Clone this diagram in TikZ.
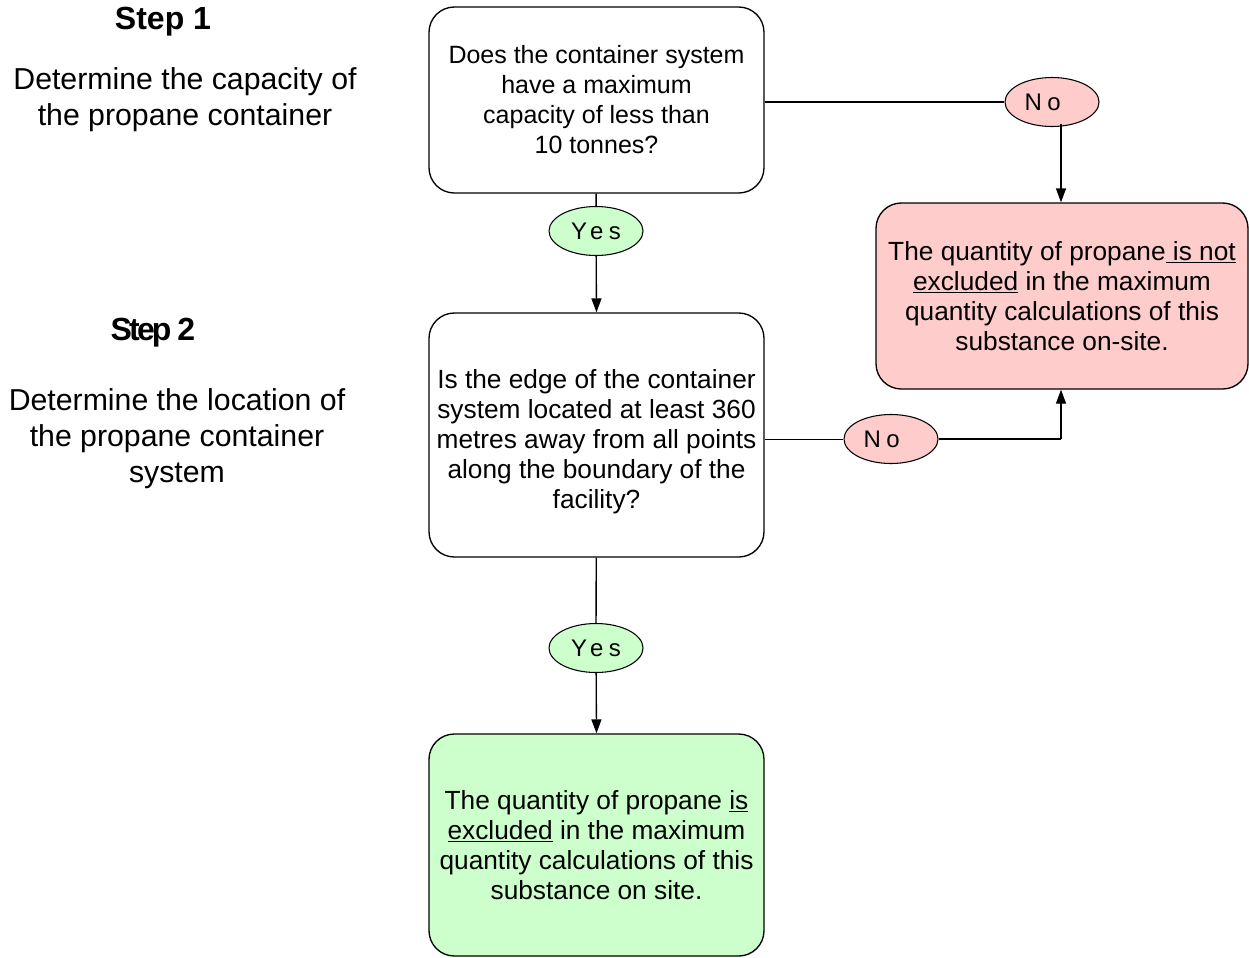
\documentclass[tikz,border=0pt]{standalone}
\usepackage{fontspec}
\setmainfont{Liberation Sans}
\usetikzlibrary{arrows.meta,shapes.geometric}
\definecolor{nofill}{HTML}{FFCCCC}
\definecolor{yesfill}{HTML}{CCFFCC}
\begin{document}
\begin{tikzpicture}[x=0.75pt,y=-0.75pt,
  boxfont/.style={font=\fontsize{19.7pt}{22.5pt}\selectfont},
  qbox/.style={draw,line width=1pt,rounded corners=19pt,minimum width=251.25pt,
    inner sep=0pt,align=center,boxfont},
  yeslabel/.style={ellipse,draw,line width=0.8pt,fill=yesfill,minimum width=70.5pt,
    minimum height=36.75pt,inner sep=0pt,
    font=\fontsize{18pt}{20pt}\selectfont\addfontfeature{LetterSpace=22}},
  nolabel/.style={yeslabel,fill=nofill},
  steptitle/.style={font=\fontsize{24pt}{28pt}\selectfont\bfseries},
  stepnote/.style={align=center,font=\fontsize{22.7pt}{27pt}\selectfont},
  link/.style={line width=1pt},
  arrowlink/.style={link,-{Triangle[length=10.5pt,width=7.5pt]}}]
\useasboundingbox (0,0) rectangle (1249,957);

% step captions on the left
\node[steptitle] (s1) at (163,22) {Step 1};
\node[stepnote] (s1n) at (185,100) {Determine the capacity of\\the propane container};
\node[steptitle,font=\fontsize{24pt}{28pt}\selectfont\bfseries\addfontfeature{LetterSpace=-9}] (s2) at (153,333) {Step 2};
\node[stepnote] (s2n) at (177,439) {Determine the location of\\the propane container\\system};

% decision and outcome boxes
\node[qbox,minimum height=139.5pt,font=\fontsize{18.75pt}{22.5pt}\selectfont] (q1) at (596.5,100)
  {Does the container system\\have a maximum\\capacity of less than\\10 tonnes?};
\node[qbox,minimum height=183pt] (q2) at (596.5,435) {};
\node[align=center,inner sep=0pt,boxfont] (q2text) at ([yshift=-5pt]q2.center)
  {Is the edge of the container\\system located at least 360\\metres away from all points\\along the boundary of the\\facility?};
\node[qbox,fill=nofill,minimum width=279pt,minimum height=139.5pt] (notex) at (1062,296)
  {The quantity of propane\underline{ is not}\\\underline{excluded} in the maximum\\quantity calculations of this\\substance on-site.};
\node[qbox,fill=yesfill,minimum height=166.5pt] (ex) at (596.5,845)
  {The quantity of propane \underline{is}\\\underline{excluded} in the maximum\\quantity calculations of this\\substance on site.};

% branch labels
\node[yeslabel] (y1) at (596,231) {Yes};
\node[yeslabel] (y2) at (596,648) {Yes};
\node[nolabel] (n1) at (1052,102) {No\hspace*{14pt}};
\node[nolabel] (n2) at (891,439) {No\hspace*{14pt}};

\coordinate (n1foot) at (1061,124);
\coordinate (n2bend) at (1061,439);

% connectors
\draw[link] (q1.east |- n1.west) -- (n1.west);
\draw[arrowlink] (n1foot) -- (n1foot |- notex.north);
\draw[link] (q1) -- (y1);
\draw[arrowlink] (y1) -- (q2.north);
\draw[link,line width=0.7pt] (q2.east |- n2.west) -- (n2.west);
\draw[link] (n2.east) -- (n2bend);
\draw[arrowlink] (n2bend) -- (n2bend |- notex.south);
\draw[link] (q2) -- (y2);
\draw[arrowlink] (y2) -- (ex.north);
\end{tikzpicture}
\end{document}
